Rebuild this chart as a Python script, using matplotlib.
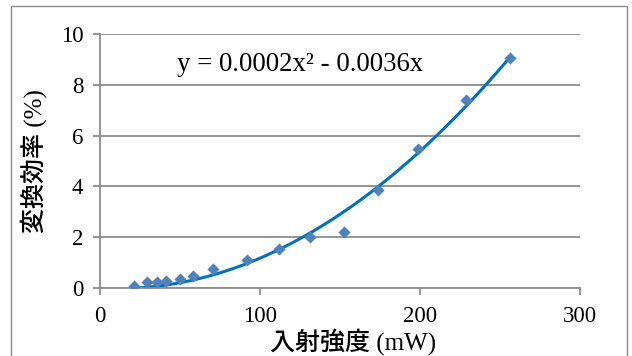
import matplotlib.pyplot as plt
from matplotlib.patches import Rectangle
import numpy as np

# incident power (mW) and conversion efficiency (%)
power = [21.3, 29.5, 35.8, 41.5, 49.8, 58.3, 70.8, 91.8, 112.0, 131.3,
         152.4, 173.9, 198.4, 228.4, 255.9]
efficiency = [0.09, 0.25, 0.25, 0.29, 0.36, 0.46, 0.76, 1.10, 1.54, 2.00,
              2.20, 3.87, 5.46, 7.42, 9.08]

x_ticks = [0, 100, 200, 300]
y_ticks = [0, 2, 4, 6, 8, 10]
equation = 'y = 0.0002x² - 0.0036x'

SERIF = 'Liberation Serif'
# latin in serif, kanji fall back to the gothic face
MIXED = ['Liberation Serif', 'Noto Sans CJK JP']
GRID = '#8c8c8c'

x = np.array(power)
y = np.array(efficiency)

# second order trend through origin, least squares
A = np.vstack([x ** 2, x]).T
a, b = np.linalg.lstsq(A, y, rcond=None)[0]
xs = np.linspace(x.min(), x.max(), 200)

fig = plt.figure(figsize=(6.32, 3.56), dpi=100)
ax = fig.add_axes([0.158, 0.191, 0.76, 0.713])

ax.set_axisbelow(True)
ax.yaxis.grid(True, color=GRID, linewidth=1.3)
ax.plot(xs, a * xs ** 2 + b * xs, color='#0070c0', linewidth=2.2, zorder=2)
ax.scatter(x, y, marker='D', s=38, color='#4f81bd', zorder=3, linewidths=0)

ax.set_xlim(0, 300)
ax.set_ylim(0, 10)
ax.set_xticks(x_ticks)
ax.set_yticks(y_ticks)
for sp in ['top', 'right']:
    ax.spines[sp].set_visible(False)
for sp in ['left', 'bottom']:
    ax.spines[sp].set_color(GRID)
    ax.spines[sp].set_linewidth(1.3)
ax.tick_params(axis='both', colors=GRID, length=5, width=1.3,
               labelcolor='black', labelsize=16.5)
ax.tick_params(axis='y', pad=7)
ax.tick_params(axis='x', pad=8)
for lab in ax.get_xticklabels() + ax.get_yticklabels():
    lab.set_family(SERIF)

ax.text(0.16, 0.88, equation, transform=ax.transAxes, fontsize=19.3,
        family=SERIF, va='center', ha='left')

ax.set_xlabel('入射強度 (mW)', family=MIXED, fontsize=18,
              fontweight='medium', labelpad=0.5)
ax.xaxis.label.set_x(0.527)
ax.set_ylabel('変換効率 (%)', family=MIXED, fontsize=18,
              fontweight='medium', labelpad=10)

# outer chart frame
fig.patches.append(Rectangle((11 / 632, -0.05), 616 / 632, 1.05 - 6 / 356,
                             transform=fig.transFigure, fill=False,
                             edgecolor='#8c8c8c', linewidth=1.0))

fig.savefig('out.png', dpi=100)
